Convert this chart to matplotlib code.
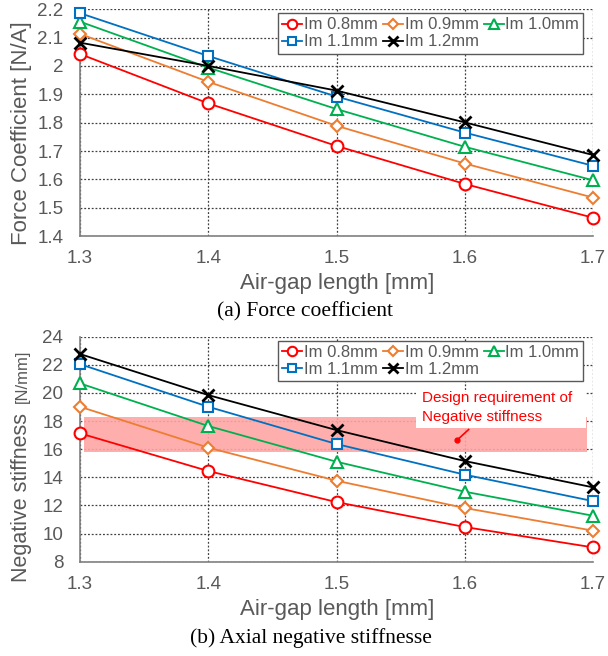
import matplotlib
matplotlib.use("Agg")
import matplotlib.pyplot as plt
from matplotlib.ticker import FormatStrFormatter

# ---------------- data ----------------
airgap = [1.3, 1.4, 1.5, 1.6, 1.7]
series_labels = ["Im 0.8mm", "Im 0.9mm", "Im 1.0mm", "Im 1.1mm", "Im 1.2mm"]

force_08 = [2.042, 1.868, 1.718, 1.584, 1.465]
force_09 = [2.113, 1.944, 1.789, 1.656, 1.536]
force_10 = [2.156, 1.994, 1.848, 1.715, 1.597]
force_11 = [2.186, 2.035, 1.892, 1.765, 1.648]
force_12 = [2.082, 2.000, 1.913, 1.801, 1.686]

stiff_08 = [17.13, 14.45, 12.24, 10.47, 9.02]
stiff_09 = [19.02, 16.11, 13.76, 11.82, 10.21]
stiff_10 = [20.68, 17.65, 15.11, 12.98, 11.27]
stiff_11 = [22.05, 19.02, 16.37, 14.19, 12.31]
stiff_12 = [22.77, 19.85, 17.36, 15.16, 13.29]

force_ticks = [1.4, 1.5, 1.6, 1.7, 1.8, 1.9, 2.0, 2.1, 2.2]
stiff_ticks = [8, 10, 12, 14, 16, 18, 20, 22, 24]
requirement_band = (15.8, 18.3)

# ---------------- style ----------------
colors = ["#FF0000", "#ED7D31", "#00B050", "#0070C0", "#000000"]
markers = ["o", "D", "^", "s", "x"]
msizes = [8.5, 6.5, 8.5, 7.5, 9]
gray = "#595959"
sans = ["Liberation Sans", "DejaVu Sans"]
serif = ["Liberation Serif", "DejaVu Serif"]

fig = plt.figure(figsize=(6.08, 6.56), dpi=100)


def style_axes(ax, ticks):
    ax.set_xlim(1.3, 1.7)
    ax.set_ylim(ticks[0], ticks[-1])
    ax.set_xticks(airgap)
    ax.set_yticks(ticks)
    ax.yaxis.set_major_formatter(FormatStrFormatter("%g"))
    ax.xaxis.set_major_formatter(FormatStrFormatter("%g"))
    ax.grid(True, linestyle=(0, (1.5, 1.5)), color="#404040", linewidth=0.9)
    ax.set_axisbelow(True)
    for s in ["top", "right"]:
        ax.spines[s].set_visible(False)
    for s in ["left", "bottom"]:
        ax.spines[s].set_color("#808080")
        ax.spines[s].set_linewidth(1.2)
    ax.tick_params(axis="both", length=0, labelsize=13.5, labelcolor=gray)
    ax.tick_params(axis="x", pad=10)
    ax.tick_params(axis="y", pad=12)
    for lab in ax.get_xticklabels() + ax.get_yticklabels():
        lab.set_fontfamily(sans)


def plot_series(ax, data):
    handles = []
    for vals, c, m, ms, lab in zip(data, colors, markers, msizes, series_labels):
        mew = 2.0 if m == "x" else 1.5
        (h,) = ax.plot(airgap, vals, color=c, marker=m, markersize=ms,
                       markerfacecolor="white" if m != "x" else c,
                       markeredgecolor=c, markeredgewidth=mew,
                       linewidth=1.3, clip_on=False, label=lab, zorder=3)
        handles.append(h)
    order = [0, 3, 1, 4, 2]
    leg = ax.legend([handles[i] for i in order], [series_labels[i] for i in order],
                    ncol=3, loc="upper right", bbox_to_anchor=(0.981, 0.982),
                    prop={"family": sans, "size": 12}, markerscale=0.8,
                    handlelength=1.2, handletextpad=0.1, columnspacing=0.3,
                    labelspacing=0.12, borderpad=0.25, borderaxespad=0.0,
                    frameon=True, fancybox=False, framealpha=1)
    leg.get_frame().set_edgecolor(gray)
    leg.get_frame().set_linewidth(1.0)
    for t in leg.get_texts():
        t.set_color(gray)
    leg.set_zorder(5)
    return leg


# ---------------- top: force coefficient ----------------
ax1 = fig.add_axes([0.1316, 0.640, 0.8438, 0.346])
style_axes(ax1, force_ticks)
plot_series(ax1, [force_08, force_09, force_10, force_11, force_12])

fig.text(27 / 608, 1 - 133 / 656, "Force Coefficient [N/A]", rotation=90,
         rotation_mode="anchor", ha="center", va="baseline",
         fontsize=16, color=gray, family=sans)
fig.text(0.5 + 0.1316 / 2 - 0.012, 1 - 283 / 656, "Air-gap length [mm]",
         ha="center", va="center", fontsize=16, color=gray, family=sans)
fig.text(305 / 608, 1 - 312 / 656, "(a) Force coefficient", ha="center",
         va="center", fontsize=15.5, color="black", family=serif)

# ---------------- bottom: negative stiffness ----------------
ax2 = fig.add_axes([0.1316, 0.1437, 0.8438, 0.343])
style_axes(ax2, stiff_ticks)
ax2.axhspan(requirement_band[0], requirement_band[1], xmin=0.008, xmax=0.988,
            color="#FFA5A5", alpha=0.9, zorder=1, linewidth=0)
plot_series(ax2, [stiff_08, stiff_09, stiff_10, stiff_11, stiff_12])

# white note box with red text
ax2.fill_between([1.562, 1.6946], 17.48, 20.09, color="white", zorder=2, linewidth=0)
ax2.text(1.5666, 19.61, "Design requirement of", color="#FF0000", fontsize=11,
         family=sans, ha="left", va="center", zorder=4)
ax2.text(1.5666, 18.31, "Negative stiffness", color="#FF0000", fontsize=11,
         family=sans, ha="left", va="center", zorder=4)
ax2.plot([1.594, 1.603], [16.65, 17.4], color="#FF0000", linewidth=1.2, zorder=4)
ax2.plot([1.594], [16.65], marker="o", markersize=3.5, color="#FF0000", zorder=4)

fig.text(27 / 608, 1 - 581.7 / 656, "Negative stiffness", rotation=90,
         rotation_mode="anchor", ha="left", va="baseline",
         fontsize=15.5, color=gray, family=sans)
fig.text(27 / 608, 1 - 403.3 / 656, "[N/mm]", rotation=90,
         rotation_mode="anchor", ha="left", va="baseline",
         fontsize=12, color=gray, family=sans)
fig.text(0.5 + 0.1316 / 2 - 0.012, 1 - 610 / 656, "Air-gap length [mm]",
         ha="center", va="center", fontsize=16, color=gray, family=sans)
fig.text(311 / 608, 1 - 638 / 656, "(b) Axial negative stiffnesse", ha="center",
         va="center", fontsize=15.5, color="black", family=serif)

fig.savefig("out.png", dpi=100, facecolor="white")
